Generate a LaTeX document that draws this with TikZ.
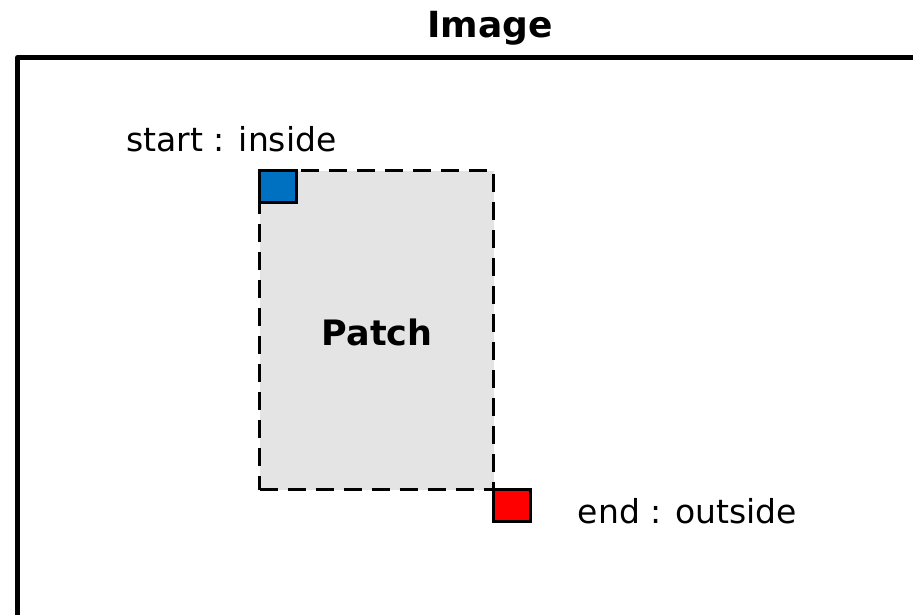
\documentclass[tikz,border=0pt]{standalone}
\usepackage{fontspec}
\setmainfont{DejaVu Sans}
\begin{document}
\begin{tikzpicture}[x=1pt,y=-1pt,
  lbl/.style={inner sep=0pt,font=\fontsize{33}{40}\selectfont},
  ttl/.style={inner sep=0pt,font=\fontsize{36}{43}\selectfont\bfseries},
  sq/.style={draw=black,line width=2.5pt,inner sep=0pt,outer sep=0pt,minimum width=37pt,minimum height=32pt,anchor=north west}]
\useasboundingbox (0,0) rectangle (913,615);
\clip (0,0) rectangle (913,615);
\definecolor{patchgray}{HTML}{E4E4E4}
\definecolor{startblue}{HTML}{0070C0}
\definecolor{endred}{HTML}{FF0000}
\node[ttl] (title) at (490,28) {Image};
\draw[line width=5pt,line join=round] (17.5,700) -- (17.5,57.5) -- (1000,57.5);
\node[draw=black,fill=patchgray,dash pattern=on 18pt off 10pt,line width=2.5pt,inner sep=0pt,outer sep=0pt,
  minimum width=234pt,minimum height=319pt,anchor=north west] (patch) at (259.5,170.5) {};
\node[ttl,font=\fontsize{35}{42}\selectfont\bfseries] at (377,332) (ptext) {Patch};
\node[sq,fill=startblue] (start) at (patch.north west) {};
\node[sq,fill=endred] (end) at (patch.south east) {};
\node[lbl] (startlbl) at (231.5,139) {start : inside};
\node[lbl] (endlbl) at (687.5,511) {end : outside};
\end{tikzpicture}
\end{document}
